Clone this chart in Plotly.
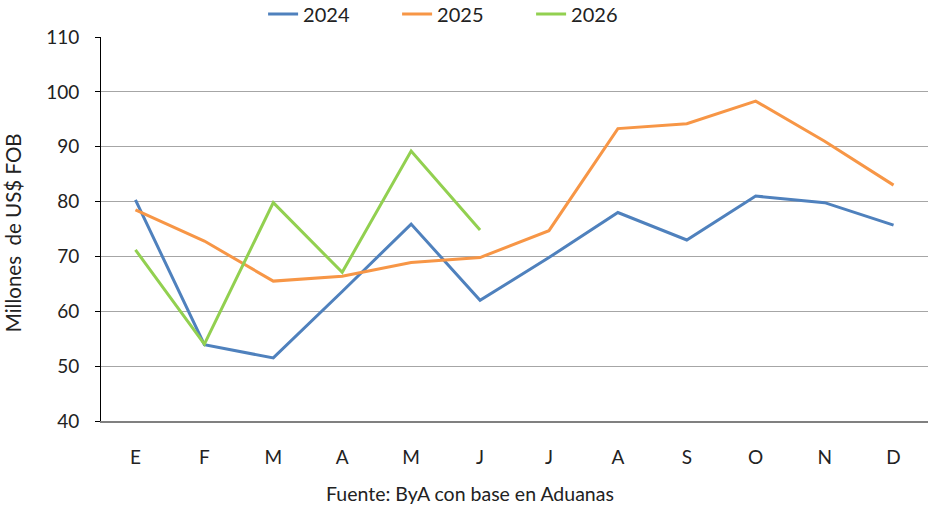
import plotly.graph_objects as go

months = ["E", "F", "M", "A", "M", "J", "J", "A", "S", "O", "N", "D"]
x_idx = list(range(12))
y2024 = [80.3, 53.9, 51.5, 63.6, 75.9, 62.0, 69.8, 78.0, 73.0, 81.0, 79.8, 75.7]
y2025 = [78.5, 72.8, 65.5, 66.4, 68.9, 69.8, 74.7, 93.3, 94.2, 98.3, 91.0, 83.0]
y2026 = [71.2, 54.0, 79.8, 67.1, 89.2, 74.8]
y_ticks = [40, 50, 60, 70, 80, 90, 100, 110]

series = [
    ("2024", y2024, "#4F81BD"),
    ("2025", y2025, "#F79646"),
    ("2026", y2026, "#92D050"),
]

fig = go.Figure()
for name, vals, color in series:
    fig.add_trace(go.Scatter(
        x=x_idx[:len(vals)], y=vals, name=name, mode="lines",
        line=dict(color=color, width=3),
    ))

font_family = "Lato, 'Open Sans', sans-serif"
fig.update_layout(
    width=932, height=506,
    margin=dict(l=101, r=4, t=37, b=85, autoexpand=False),
    plot_bgcolor="white", paper_bgcolor="white",
    font=dict(family=font_family, size=19, color="#222222"),
    showlegend=True,
    legend=dict(orientation="h", x=0.196, xanchor="left", y=1.06, yanchor="middle",
                font=dict(size=20), entrywidth=89, entrywidthmode="pixels",
                bgcolor="rgba(0,0,0,0)"),
    xaxis=dict(
        range=[-0.5, 11.5], tickmode="array", tickvals=x_idx, ticktext=months,
        showgrid=False, zeroline=False, showline=True, linecolor="#808080", linewidth=2,
        ticks="", ticklabelstandoff=18, tickfont=dict(size=19),
    ),
    yaxis=dict(
        range=[40, 110], tickmode="array", tickvals=y_ticks,
        showgrid=True, gridcolor="#A6A6A6", gridwidth=1, zeroline=False,
        showline=True, linecolor="#000000", linewidth=1,
        ticks="outside", ticklen=5, tickcolor="#000000",
        ticklabelstandoff=12, tickfont=dict(size=19),
    ),
    annotations=[
        dict(text="Millones  de US$ FOB", xref="paper", yref="paper",
             x=-0.106, y=0.49, textangle=-90, showarrow=False,
             xanchor="center", yanchor="middle", font=dict(size=20.5)),
        dict(text="Fuente: ByA con base en Aduanas", xref="paper", yref="paper",
             x=0.446, y=-0.188, showarrow=False, xanchor="center", yanchor="middle",
             font=dict(size=19.5)),
    ],
)

fig.write_html("out.html")
